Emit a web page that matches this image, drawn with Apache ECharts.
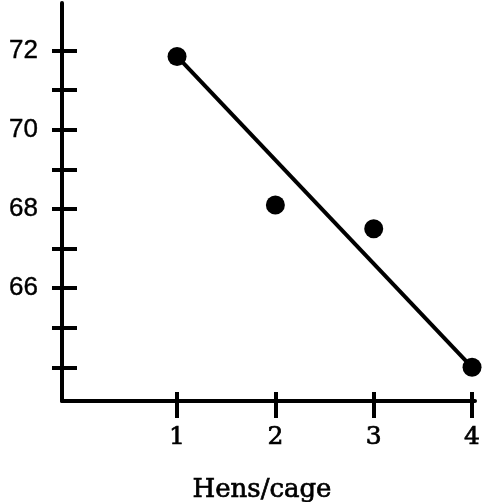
<!DOCTYPE html>
<html><head><meta charset="utf-8">
<script src="https://cdn.jsdelivr.net/npm/echarts@6/dist/echarts.min.js"></script>
<style>html,body{margin:0;padding:0;background:#fff}#c{width:485px;height:502px}</style>
</head><body><div id="c"></div>
<script>
const henX = [1, 2, 3, 4];
const eggY = [71.85, 68.1, 67.5, 64.0];
const fitX = [1, 4];
const fitY = [71.85, 64.0];
const xTicks = [1, 2, 3, 4];
const yTicks = [64, 65, 66, 67, 68, 69, 70, 71, 72];
const yLabels = [66, 68, 70, 72];
const xTitle = 'Hens/cage';

const chart = echarts.init(document.getElementById('c'), null, {renderer: 'canvas'});
const ink = '#000';
const xBase = {min: -0.17, max: 4.03, type: 'value', gridIndex: 0, position: 'bottom', splitLine: {show: false}};
const yBase = {min: 63.15, max: 73.2, type: 'value', gridIndex: 0, position: 'left', splitLine: {show: false}};
chart.setOption({
  animation: false,
  backgroundColor: '#fff',
  grid: {left: 62, right: 10, top: 3, bottom: 101, containLabel: false},
  title: {text: xTitle, left: 257, top: 472, textAlign: 'center',
    textStyle: {fontFamily: 'DejaVu Serif', fontSize: 26, fontWeight: 'normal', color: ink,
      textBorderColor: ink, textBorderWidth: 0.7}},
  xAxis: [
    Object.assign({}, xBase, {
      axisLine: {show: true, onZero: false, lineStyle: {color: ink, width: 4}},
      axisTick: {show: true, inside: false, length: 17, lineStyle: {color: ink, width: 4}, customValues: xTicks},
      axisLabel: {show: true, margin: 24, color: ink, fontFamily: 'DejaVu Serif', fontSize: 25, customValues: xTicks,
        textBorderColor: ink, textBorderWidth: 0.7}
    }),
    Object.assign({}, xBase, {
      axisLine: {show: false, onZero: false},
      axisTick: {show: true, inside: true, length: 9, lineStyle: {color: ink, width: 4}, customValues: xTicks},
      axisLabel: {show: false}
    })
  ],
  yAxis: [
    Object.assign({}, yBase, {
      axisLine: {show: true, onZero: false, lineStyle: {color: ink, width: 4}},
      axisTick: {show: true, inside: true, length: 15, lineStyle: {color: ink, width: 4}, customValues: yTicks},
      axisLabel: {show: true, margin: 24, color: ink, fontFamily: 'Liberation Sans', fontSize: 26, customValues: yLabels,
        textBorderColor: ink, textBorderWidth: 0.4}
    }),
    Object.assign({}, yBase, {
      axisLine: {show: false, onZero: false},
      axisTick: {show: true, inside: false, length: 10, lineStyle: {color: ink, width: 4}, customValues: yTicks},
      axisLabel: {show: false}
    })
  ],
  series: [
    {type: 'line', xAxisIndex: 0, yAxisIndex: 0, data: fitX.map((x, i) => [x, fitY[i]]),
      symbol: 'none', lineStyle: {color: ink, width: 4}},
    {type: 'scatter', xAxisIndex: 0, yAxisIndex: 0, data: henX.map((x, i) => [x, eggY[i]]),
      symbolSize: 19, itemStyle: {color: ink, opacity: 1}}
  ]
});
</script></body></html>
